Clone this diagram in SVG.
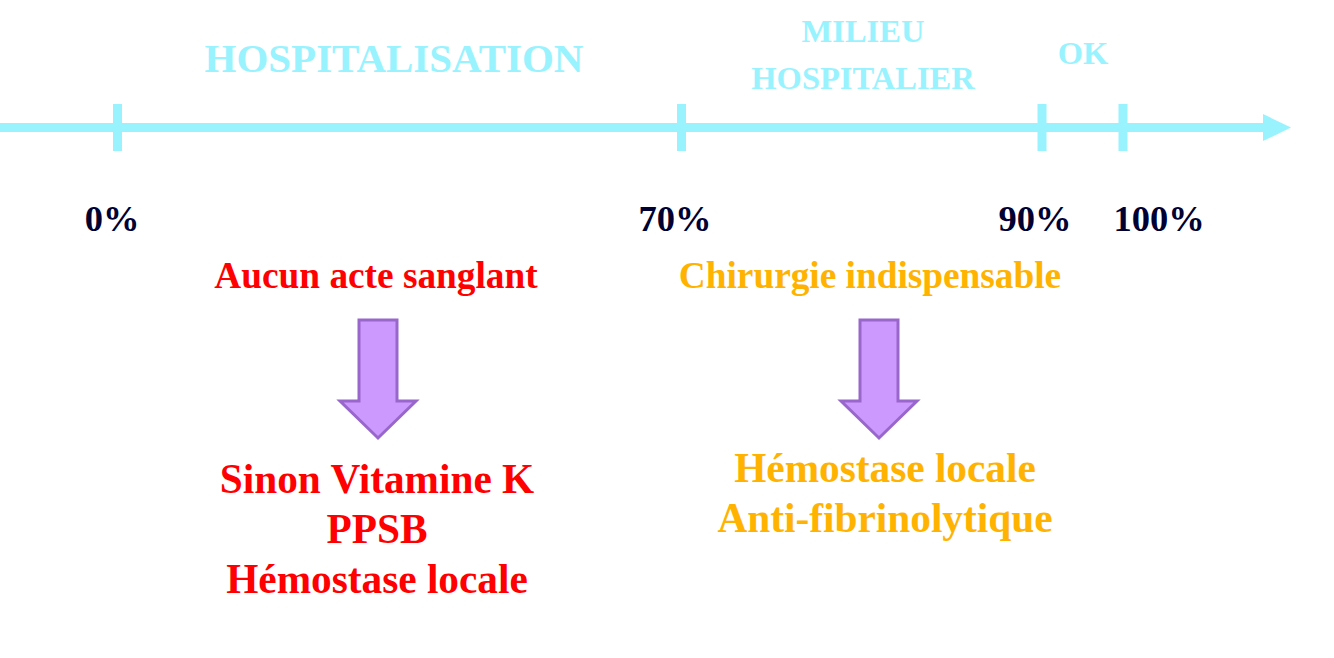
<svg xmlns="http://www.w3.org/2000/svg" width="1334" height="658" viewBox="0 0 1334 658">
<style>
.t{font-family:"Liberation Serif","Times New Roman",serif;font-weight:bold;text-anchor:middle}
.cy{fill:#99F3FF}
.pc{fill:#000033;font-size:36.5px}
.red{fill:#FF0000}
.org{fill:#FFB300}
.ax{stroke:#99F3FF;stroke-width:9;fill:none}
.tick{fill:#99F3FF}
.darr{fill:#CC99FF;stroke:#9966CC;stroke-width:3;stroke-linejoin:miter}
</style>
<rect width="1334" height="658" fill="#FFFFFF"/>
<g id="connectors">
<line class="ax" x1="0" y1="127.5" x2="1265" y2="127.5"/>
<polygon class="tick" points="1263,114 1291,127.5 1263,141"/>
<rect class="tick" x="113" y="104" width="9" height="47"/>
<rect class="tick" x="677" y="104" width="9" height="47"/>
<rect class="tick" x="1037.5" y="104" width="9" height="47"/>
<rect class="tick" x="1118.5" y="104" width="9" height="47"/>
<polygon class="darr" points="359,320 397,320 397,401 416,401 378,438 340,401 359,401"/>
<polygon class="darr" points="860,320 898,320 898,401 917,401 879,438 841,401 860,401"/>
</g>
<g id="label-hospitalisation"><text class="t cy" x="394" y="72" font-size="41">HOSPITALISATION</text></g>
<g id="label-milieu"><text class="t cy" x="863" y="42" font-size="32.5">MILIEU</text><text class="t cy" x="863" y="89" font-size="32.5">HOSPITALIER</text></g>
<g id="label-ok"><text class="t cy" x="1083" y="64" font-size="32.5">OK</text></g>
<g id="pct-0"><text class="t pc" x="112" y="231">0%</text></g>
<g id="pct-70"><text class="t pc" x="675" y="231">70%</text></g>
<g id="pct-90"><text class="t pc" x="1035" y="231">90%</text></g>
<g id="pct-100"><text class="t pc" x="1159" y="231">100%</text></g>
<g id="left-cond"><text class="t red" x="376" y="288" font-size="37.3">Aucun acte sanglant</text></g>
<g id="right-cond"><text class="t org" x="870" y="288" font-size="37.3">Chirurgie indispensable</text></g>
<g id="left-result"><text class="t red" x="377" y="493" font-size="41.3">Sinon Vitamine K</text><text class="t red" x="377" y="543" font-size="41.3">PPSB</text><text class="t red" x="377" y="593" font-size="41.3">Hémostase locale</text></g>
<g id="right-result"><text class="t org" x="885" y="482" font-size="41.3">Hémostase locale</text><text class="t org" x="885" y="532" font-size="41.3">Anti-fibrinolytique</text></g>
</svg>
